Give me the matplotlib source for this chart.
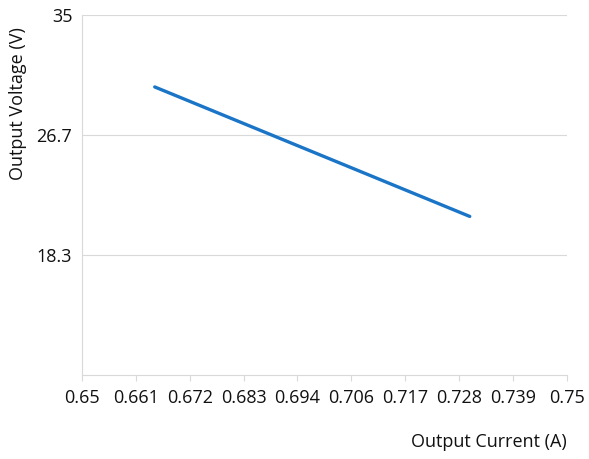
import matplotlib
matplotlib.use('Agg')
from matplotlib import pyplot as plt

# data
current = [0.665, 0.730]
voltage = [30.0, 21.0]

x_ticks = [0.65, 0.661, 0.672, 0.683, 0.694, 0.706, 0.717, 0.728, 0.739, 0.75]
x_tick_labels = ['0.65', '0.661', '0.672', '0.683', '0.694', '0.706', '0.717', '0.728', '0.739', '0.75']
y_ticks = [18.333, 26.667, 35.0]
y_tick_labels = ['18.3', '26.7', '35']

plt.rcParams['font.family'] = ['Open Sans', 'DejaVu Sans']

fig = plt.figure(figsize=(5.89, 4.59), dpi=100)
ax = fig.add_axes([82 / 589, 1 - 374.7 / 459, (566.7 - 82) / 589, (374.7 - 15) / 459])

# x ticks evenly spread over the range (labels are rounded)
ax.set_xlim(0.65, 0.75)
ax.set_ylim(10, 35)
x_pos = [0.65 + i * 0.1 / (len(x_ticks) - 1) for i in range(len(x_ticks))]
ax.set_xticks(x_pos)
ax.set_xticklabels(x_tick_labels)
ax.set_yticks(y_ticks)
ax.set_yticklabels(y_tick_labels)

ax.yaxis.grid(True, color='#d9d9d9', linewidth=0.8)
ax.set_axisbelow(True)
for side in ['top', 'right']:
    ax.spines[side].set_visible(False)
for side in ['left', 'bottom']:
    ax.spines[side].set_color('#d9d9d9')
    ax.spines[side].set_linewidth(0.8)

ax.tick_params(axis='x', length=4, color='#d9d9d9', pad=6, labelsize=13, labelcolor='#111111')
ax.tick_params(axis='y', length=0, pad=7, labelsize=13, labelcolor='#111111')

ax.plot(current, voltage, color='#1b75c7', linewidth=2.4, solid_capstyle='round')

fig.text(18 / 589, 1 - 104 / 459, 'Output Voltage (V)', rotation=90, ha='center', va='center',
         fontsize=13, color='#111111')
fig.text(566.7 / 589, 1 - 442 / 459, 'Output Current (A)', ha='right', va='center',
         fontsize=13, color='#111111')

fig.savefig('out.png', dpi=100)
